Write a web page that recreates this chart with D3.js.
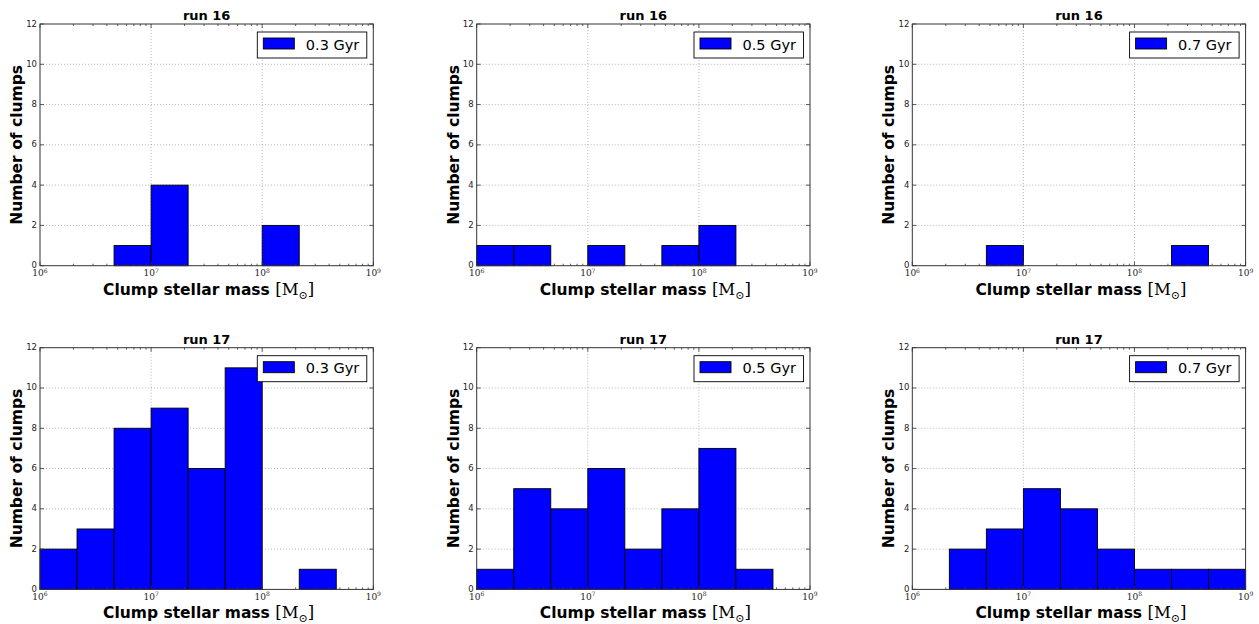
<!DOCTYPE html>
<html><head><meta charset="utf-8">
<script src="https://cdn.jsdelivr.net/npm/d3@7"></script>
<style>
body{margin:0;background:#fff;}
svg{display:block;}
</style></head>
<body>
<svg id="chart" width="1259" height="624"></svg>
<script>
// ---- data ----
const binEdgesExp = [6, 6+1/3, 6+2/3, 7, 7+1/3, 7+2/3, 8, 8+1/3, 8+2/3, 9];
const yTicks = [0, 2, 4, 6, 8, 10, 12];
const xMajorExp = [6, 7, 8, 9];
const runTitles = ["run 16", "run 16", "run 16", "run 17", "run 17", "run 17"];
const legendLabels = ["0.3 Gyr", "0.5 Gyr", "0.7 Gyr", "0.3 Gyr", "0.5 Gyr", "0.7 Gyr"];
const run16_03 = [0, 0, 1, 4, 0, 0, 2, 0, 0];
const run16_05 = [1, 1, 0, 1, 0, 1, 2, 0, 0];
const run16_07 = [0, 0, 1, 0, 0, 0, 0, 1, 0];
const run17_03 = [2, 3, 8, 9, 6, 11, 0, 1, 0];
const run17_05 = [1, 5, 4, 6, 2, 4, 7, 1, 0];
const run17_07 = [0, 2, 3, 5, 4, 2, 1, 1, 1];
const panelCounts = [run16_03, run16_05, run16_07, run17_03, run17_05, run17_07];

// ---- layout ----
const colLeft = [40, 476.7, 912.3];
const rowTop = [24, 347.7];
const pw = 333.3, ph = 241.7;
const svg = d3.select("#chart");

panelCounts.forEach((counts, i) => {
  const col = i % 3, row = Math.floor(i / 3);
  const g = svg.append("g").attr("transform", `translate(${colLeft[col]},${rowTop[row]})`);
  const x = d3.scaleLog().domain([1e6, 1e9]).range([0, pw]);
  const y = d3.scaleLinear().domain([0, 12]).range([ph, 0]);

  // grid
  const grid = g.append("g").attr("stroke", "#000").attr("stroke-width", 0.5)
    .attr("stroke-dasharray", "1,2").attr("opacity", 0.55);
  yTicks.slice(1, -1).forEach(t => grid.append("line")
    .attr("x1", 0).attr("x2", pw).attr("y1", y(t)).attr("y2", y(t)));
  xMajorExp.slice(1, -1).forEach(e => grid.append("line")
    .attr("x1", x(Math.pow(10, e))).attr("x2", x(Math.pow(10, e))).attr("y1", 0).attr("y2", ph));

  // bars
  const bins = counts.map((c, k) => ({c, x0: Math.pow(10, binEdgesExp[k]), x1: Math.pow(10, binEdgesExp[k+1])}))
    .filter(d => d.c > 0);
  g.append("g").selectAll("rect").data(bins).join("rect")
    .attr("x", d => x(d.x0)).attr("width", d => x(d.x1) - x(d.x0))
    .attr("y", d => y(d.c)).attr("height", d => y(0) - y(d.c))
    .attr("fill", "#0000ff").attr("stroke", "#000").attr("stroke-width", 0.9);

  // ticks (inward, all sides)
  const tk = g.append("g").attr("stroke", "#333").attr("stroke-width", 0.8);
  const minor = [];
  for (let e = 6; e < 9; e++) for (let m = 2; m <= 9; m++) minor.push(m * Math.pow(10, e));
  minor.forEach(v => {
    tk.append("line").attr("x1", x(v)).attr("x2", x(v)).attr("y1", ph).attr("y2", ph - 2);
    tk.append("line").attr("x1", x(v)).attr("x2", x(v)).attr("y1", 0).attr("y2", 2);
  });
  xMajorExp.forEach(e => {
    const v = x(Math.pow(10, e));
    tk.append("line").attr("x1", v).attr("x2", v).attr("y1", ph).attr("y2", ph - 4);
    tk.append("line").attr("x1", v).attr("x2", v).attr("y1", 0).attr("y2", 4);
  });
  yTicks.forEach(t => {
    tk.append("line").attr("x1", 0).attr("x2", 4).attr("y1", y(t)).attr("y2", y(t));
    tk.append("line").attr("x1", pw).attr("x2", pw - 4).attr("y1", y(t)).attr("y2", y(t));
  });

  // frame
  g.append("rect").attr("x", 0).attr("y", 0).attr("width", pw).attr("height", ph)
    .attr("fill", "none").attr("stroke", "#333").attr("stroke-width", 1);

  // y tick labels
  g.append("g").selectAll("text").data(yTicks).join("text")
    .attr("x", -3).attr("y", d => y(d) + 2.5)
    .attr("text-anchor", "end").attr("font-family", "DejaVu Sans").attr("font-size", 8.5)
    .attr("fill", "#222").text(d => d);

  // x tick labels
  const xl = g.append("g");
  xMajorExp.forEach(e => {
    const t = xl.append("text").attr("x", x(Math.pow(10, e))).attr("y", ph + 10.5)
      .attr("text-anchor", "middle").attr("font-family", "DejaVu Serif").attr("font-size", 9).attr("fill", "#222");
    t.append("tspan").text("10");
    t.append("tspan").attr("dy", -3.5).attr("font-size", 6).text(String(e));
  });

  // title
  g.append("text").attr("x", pw / 2).attr("y", -4).attr("text-anchor", "middle")
    .attr("font-family", "DejaVu Sans").attr("font-weight", "bold").attr("font-size", 13)
    .text(runTitles[i]);

  // y label
  g.append("text").attr("transform", `translate(-18,${ph / 2}) rotate(-90)`)
    .attr("text-anchor", "middle").attr("font-family", "DejaVu Sans").attr("font-weight", "bold")
    .attr("font-size", 15.5).text("Number of clumps");

  // x label
  const xt = g.append("text").attr("x", pw / 2 + 2).attr("y", ph + 29).attr("text-anchor", "middle")
    .attr("font-family", "DejaVu Sans").attr("font-size", 15.5);
  xt.append("tspan").attr("font-weight", "bold").text("Clump stellar mass ");
  xt.append("tspan").attr("font-family", "DejaVu Serif").attr("font-size", 16.5).text("[M");
  xt.append("tspan").attr("font-family", "DejaVu Serif").attr("font-size", 11).attr("dy", 4).text("⊙");
  xt.append("tspan").attr("font-family", "DejaVu Serif").attr("font-size", 16.5).attr("dy", -4).text("]");

  // legend
  const lg = g.append("g").attr("transform", `translate(${pw - 116},8)`);
  lg.append("rect").attr("x", 0).attr("y", 0).attr("width", 109.5).attr("height", 26)
    .attr("fill", "#fff").attr("stroke", "#000").attr("stroke-width", 0.9);
  lg.append("rect").attr("x", 6).attr("y", 6).attr("width", 31).attr("height", 11)
    .attr("fill", "#0000ff").attr("stroke", "#000").attr("stroke-width", 0.9);
  lg.append("text").attr("x", 48.5).attr("y", 17.5).attr("font-family", "DejaVu Sans")
    .attr("font-size", 14.5).text(legendLabels[i]);
});
</script>
</body></html>
